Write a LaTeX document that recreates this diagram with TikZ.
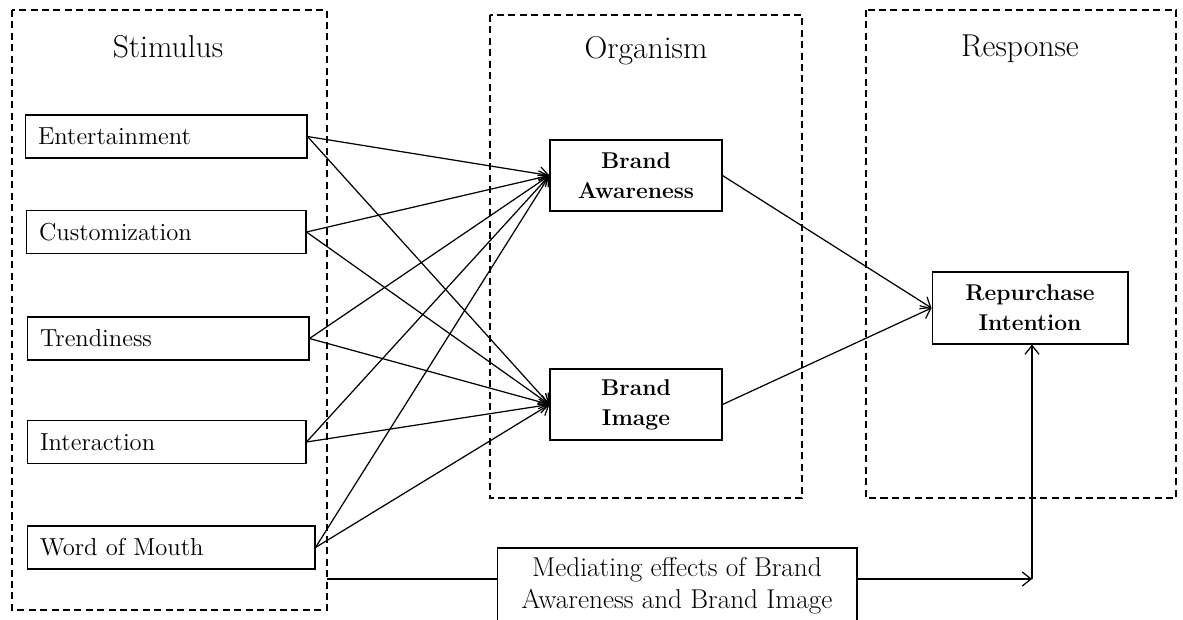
\documentclass[tikz,border=0pt]{standalone}
\usepackage{fontspec}
\usetikzlibrary{arrows.meta}
\begin{document}
\begin{tikzpicture}[x=0.02cm,y=-0.02cm,
  line width=0.7pt,
  >={Straight Barb[length=5pt,width=8pt]},
  group/.style={draw,dash pattern=on 4pt off 2.5pt,line width=0.6pt},
  title/.style={font=\fontsize{18}{21}\selectfont},
  stim/.style={draw,line width=0.6pt,inner xsep=0.26cm,align=left,minimum height=0.86cm,font=\fontsize{14}{17}\selectfont},
  org/.style={draw,line width=0.6pt,align=center,minimum width=3.44cm,minimum height=1.42cm,font=\fontsize{13}{17}\selectfont\bfseries},
  medbox/.style={draw,line width=0.6pt,align=center,minimum width=7.2cm,minimum height=1.52cm,font=\fontsize{15.5}{18}\selectfont,fill=white}
]
\useasboundingbox (0,0) rectangle (1183,619);
% group boxes
\draw[group] (12,10) rectangle (327,610);
\draw[group] (490,15) rectangle (802,498);
\draw[group] (866,10) rectangle (1176,498);
\node[title] (tS) at (168,47) {Stimulus};
\node[title] (tO) at (646,51) {Organism};
\node[title] (tR) at (1020,49) {Response};
% stimulus boxes
\node[stim,text width=5.12cm] (ent) at (166,136.5) {Entertainment};
\node[stim,text width=5.08cm] (cus) at (166,232) {Customization};
\node[stim,text width=5.12cm] (tre) at (168,338.5) {Trendiness};
\node[stim,text width=5.06cm] (int) at (166.5,442) {Interaction};
\node[stim,text width=5.24cm] (wom) at (171,547.5) {Word of Mouth};
% organism
\node[org] (ba) at (636,175.5) {Brand\\Awareness};
\node[org] (bi) at (636,404.5) {Brand\\Image};
% response
\node[org,minimum width=3.92cm,minimum height=1.44cm] (rep) at (1030,308) {Repurchase\\Intention};
% arrows
\foreach \s in {ent,cus,tre,int,wom}{
  \draw[->] (\s.east) -- (ba.west);
  \draw[->] (\s.east) -- (bi.west);
}
\draw[->] (ba.east) -- (rep.west);
\draw[->] (bi.east) -- (rep.west);
% mediating
\node[medbox] (med) at (677,586) {Mediating effects of Brand\\Awareness and Brand Image};
\coordinate (ms) at (327,579);
\coordinate (mc) at (1032,579);
\draw (ms) -- (ms -| med.west);
\draw[->] (ms -| med.east) -- (mc);
\draw[->] (mc) -- (mc |- rep.south);
\end{tikzpicture}
\end{document}
